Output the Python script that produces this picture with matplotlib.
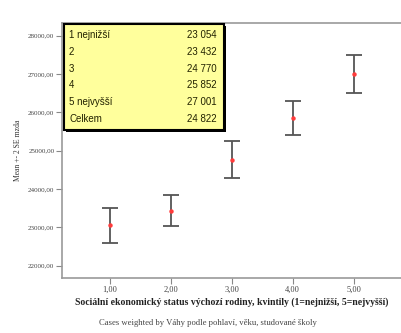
import matplotlib.pyplot as plt
from matplotlib.patches import Rectangle

# data
groups = [1, 2, 3, 4, 5]
means = [23054, 23432, 24770, 25852, 27001]
errs = [449, 404, 470, 452, 500]  # 2 SE
table_labels = ['1 nejnižší', '2', '3', '4', '5 nejvyšší', 'Celkem']
table_values = [23054, 23432, 24770, 25852, 27001, 24822]
yticks = [22000, 23000, 24000, 25000, 26000, 27000, 28000]
xticks = [1, 2, 3, 4, 5]

W, H = 401, 333
fig = plt.figure(figsize=(W / 100, H / 100), dpi=100)
ax = fig.add_axes([62 / W, 55 / H, (W - 62) / W, 255 / H])

ax.errorbar(groups, means, yerr=errs, fmt='none', ecolor='#555555',
            elinewidth=1.3, capsize=5.5, capthick=1.3, zorder=2)
ax.plot(groups, means, 'o', color='#ff3b3b', markersize=3.2,
        markeredgewidth=0, zorder=3)

ax.set_xlim(0.212, 5.78)
ax.set_ylim(21679, 28331)
ax.set_xticks(xticks)
ax.set_xticklabels([f'{v:.2f}'.replace('.', ',') for v in xticks],
                   family='Liberation Serif', fontsize=6, color='#444444')
ax.set_yticks(yticks)
ax.set_yticklabels([f'{v:.2f}'.replace('.', ',') for v in yticks],
                   family='Liberation Serif', fontsize=5, color='#444444')
ax.tick_params(direction='out', length=4, width=0.8, color='#888888', pad=1.5)
for s in ['left', 'bottom', 'top']:
    ax.spines[s].set_color('#999999')
    ax.spines[s].set_linewidth(1.2)
ax.spines['right'].set_visible(False)

ax.set_ylabel('Mean +- 2 SE mzda', family='Liberation Serif', fontsize=5.5,
              color='#333333')
ax.yaxis.set_label_coords(-0.118, 0.5)
ax.set_xlabel('Sociální ekonomický status výchozí rodiny, kvintily (1=nejnižší, 5=nejvyšší)',
              family='Liberation Serif', fontsize=7, fontweight='bold', color='#222222',
              labelpad=3)

fig.text(208 / W, 1 - 323 / H, 'Cases weighted by Váhy podle pohlaví, věku, studované školy',
         family='Liberation Serif', fontsize=6.2, color='#444444',
         ha='center', va='center')

# summary table box (figure pixel coords)
x0, y0, x1, y1 = 64, 24, 224, 130
shadow = Rectangle((x0 / W + 2 / W, 1 - (y1 + 2) / H), (x1 - x0) / W, (y1 - y0) / H,
                   transform=fig.transFigure, facecolor='black', edgecolor='none', zorder=4)
box = Rectangle((x0 / W, 1 - y1 / H), (x1 - x0) / W, (y1 - y0) / H,
                transform=fig.transFigure, facecolor='#ffff9c', edgecolor='black',
                linewidth=1.5, zorder=5)
fig.patches.extend([shadow, box])
for i, (lab, val) in enumerate(zip(table_labels, table_values)):
    yy = 1 - (35 + i * 16.8) / H
    fig.text(69 / W, yy, lab, family='Liberation Sans', fontsize=7,
             color='#222200', va='center', zorder=6)
    fig.text(187 / W, yy, f'{val:,}'.replace(',', ' '), family='Liberation Sans',
             fontsize=7, color='#222200', va='center', zorder=6)

fig.savefig('out.png', dpi=100)
